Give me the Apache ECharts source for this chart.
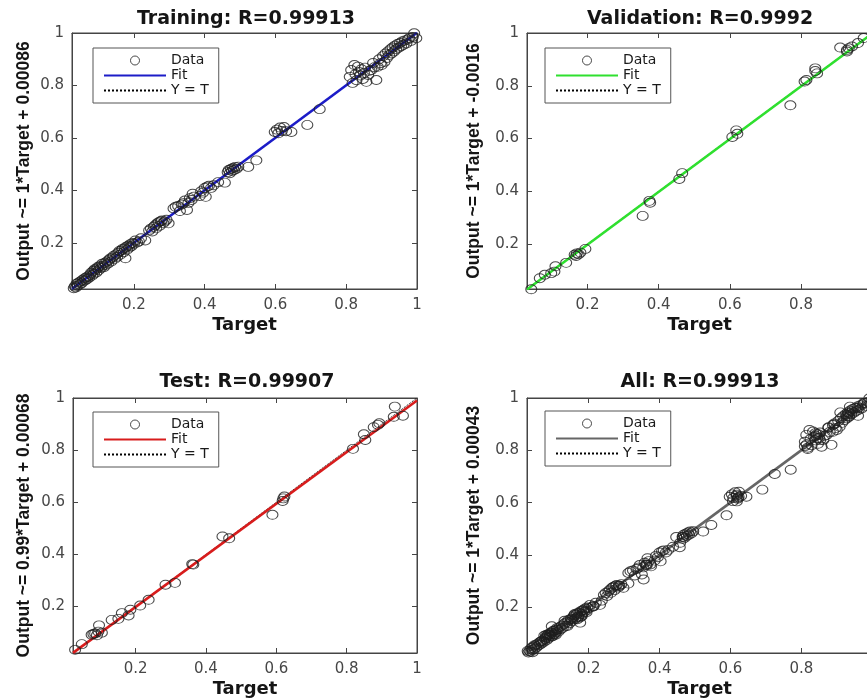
<!DOCTYPE html>
<html><head><meta charset="utf-8">
<script src="https://cdn.jsdelivr.net/npm/echarts@6/dist/echarts.min.js"></script>
<style>html,body{margin:0;padding:0;overflow:hidden;background:#fff}#c{width:880px;height:700px}</style>
</head><body><div id="c"></div>
<script>
// ---- data ----
const tickValues = [0.2, 0.4, 0.6, 0.8, 1];
const titles = ['Training: R=0.99913', 'Validation: R=0.9992', 'Test: R=0.99907', 'All: R=0.99913'];
const yNames = ['Output ~= 1*Target + 0.00086', 'Output ~= 1*Target + -0.0016', 'Output ~= 0.99*Target + 0.00068', 'Output ~= 1*Target + 0.00043'];
const fitSlope = [1, 1, 0.99, 1];
const fitIntercept = [0.00086, -0.0016, 0.00068, 0.00043];
const axisMin = [0.025, 0.03, 0.022, 0.026];
const axisMax = [1, 1, 1, 1];

const trainTarget = [0.030,0.033,0.036,0.038,0.041,0.044,0.047,0.049,0.052,0.055,0.058,0.061,0.063,0.066,0.068,0.071,0.074,0.077,0.079,0.082,0.085,0.087,0.089,0.091,0.094,0.096,0.099,0.101,0.104,0.107,0.110,0.112,0.115,0.118,0.121,0.124,0.127,0.130,0.133,0.136,0.140,
0.143,0.146,0.150,0.153,0.156,0.159,0.162,0.165,0.168,0.171,0.174,0.176,0.178,0.181,0.184,0.187,0.190,0.193,0.196,0.200,0.204,0.209,0.214,0.220,0.232,
0.243,0.248,0.252,0.256,0.260,0.263,0.266,0.270,0.273,0.276,0.279,0.283,0.287,0.292,0.298,
0.312,0.318,0.325,0.330,0.335,0.340,0.344,0.350,0.354,0.358,0.363,0.366,0.370,
0.386,0.390,0.395,0.400,0.403,0.407,0.412,0.418,0.425,0.438,0.457,
0.465,0.468,0.471,0.474,0.477,0.480,0.483,0.486,0.490,0.495,0.523,0.546,
0.598,0.604,0.608,0.613,0.618,0.624,0.630,0.645,0.690,0.725,
0.810,0.814,0.818,0.823,0.826,0.829,0.833,0.836,0.840,0.843,0.847,0.850,0.853,0.857,0.862,0.866,0.871,0.876,0.880,0.885,
0.889,0.893,0.897,0.900,0.904,0.908,0.911,0.915,0.918,0.921,0.925,0.928,0.931,0.935,0.938,0.941,0.945,0.948,0.952,0.955,0.958,0.962,0.966,0.970,0.974,0.978,0.983,0.988,0.992,0.998];
const trainOutput = [0.028,0.035,0.031,0.045,0.038,0.050,0.042,0.054,0.047,0.060,0.055,0.066,0.058,0.070,0.063,0.074,0.069,0.080,0.087,0.076,0.094,0.083,0.100,0.096,0.088,0.104,0.110,0.097,0.112,0.105,0.121,0.114,0.108,0.125,0.117,0.130,0.122,0.136,0.141,0.130,0.145,
0.152,0.140,0.157,0.148,0.163,0.170,0.156,0.172,0.178,0.165,0.180,0.142,0.186,0.175,0.190,0.183,0.196,0.188,0.200,0.197,0.210,0.202,0.206,0.218,0.210,
0.248,0.255,0.244,0.262,0.268,0.256,0.275,0.279,0.266,0.283,0.286,0.276,0.282,0.289,0.275,
0.332,0.338,0.341,0.322,0.347,0.352,0.362,0.326,0.353,0.371,0.364,0.388,0.377,
0.379,0.397,0.392,0.410,0.376,0.415,0.418,0.410,0.420,0.432,0.430,
0.470,0.478,0.466,0.482,0.474,0.486,0.478,0.490,0.483,0.491,0.490,0.515,
0.623,0.632,0.618,0.640,0.627,0.642,0.626,0.623,0.650,0.710,
0.833,0.859,0.810,0.878,0.843,0.820,0.872,0.852,0.838,0.862,0.825,0.848,0.868,0.814,0.840,0.856,0.859,0.886,0.870,0.821,
0.871,0.900,0.885,0.878,0.912,0.890,0.922,0.905,0.930,0.915,0.938,0.922,0.945,0.930,0.952,0.938,0.958,0.944,0.962,0.950,0.968,0.955,0.972,0.960,0.975,0.980,0.970,0.985,0.999,0.980];

const valTarget = [0.042,0.066,0.080,0.098,0.107,0.110,0.140,0.164,0.168,0.170,0.175,0.180,0.194,0.355,0.374,0.376,0.458,0.466,0.607,0.618,0.621,0.770,0.810,0.815,0.840,0.845,0.840,0.910,0.929,0.929,0.934,0.943,0.960,0.976];
const valOutput = [0.029,0.071,0.084,0.090,0.096,0.116,0.129,0.160,0.155,0.165,0.162,0.168,0.182,0.307,0.364,0.357,0.447,0.469,0.606,0.631,0.618,0.726,0.816,0.822,0.866,0.847,0.856,0.945,0.936,0.930,0.942,0.949,0.962,0.981];

const testTarget = [0.028,0.047,0.075,0.080,0.085,0.090,0.094,0.096,0.104,0.132,0.151,0.161,0.180,0.185,0.213,0.237,0.285,0.312,0.361,0.364,0.447,0.466,0.589,0.618,0.620,0.623,0.818,0.849,0.853,0.877,0.889,0.893,0.934,0.937,0.960];
const testOutput = [0.034,0.056,0.092,0.095,0.097,0.090,0.104,0.128,0.100,0.149,0.153,0.175,0.166,0.188,0.204,0.226,0.284,0.291,0.363,0.361,0.469,0.462,0.552,0.605,0.615,0.622,0.805,0.861,0.839,0.888,0.897,0.903,0.928,0.967,0.932];

const allTarget = trainTarget.concat(valTarget, testTarget);
const allOutput = trainOutput.concat(valOutput, testOutput);

const setTargets = [trainTarget, valTarget, testTarget, allTarget];
const setOutputs = [trainOutput, valOutput, testOutput, allOutput];

// ---- styling / layout ----
const fitColors = ['#1c1cc8', '#2fe02f', '#d81c1c', '#666666'];
const grids = [
  {left: 72, top: 33, width: 345, height: 256},
  {left: 527, top: 33, width: 346, height: 256},
  {left: 73, top: 398, width: 344, height: 255},
  {left: 527, top: 398, width: 346, height: 255}
];
const titlePos = [[246, 10], [700, 10], [247, 373], [700, 373]];
const legendPos = [[93, 48], [545, 48], [93, 412], [545, 411]];
const yNameGap = [39, 44, 40, 44];

const FONT = 'DejaVu Sans';
const axisColor = '#454545';
const labelColor = '#474747';

const option = {
  animation: false,
  backgroundColor: '#fff',
  title: [], grid: [], xAxis: [], yAxis: [], series: [], legend: []
};

for (let i = 0; i < 4; i++) {
  const mn = axisMin[i], mx = axisMax[i];
  option.grid.push(Object.assign({show: true, borderColor: axisColor, borderWidth: 1, backgroundColor: '#fff'}, grids[i]));
  option.title.push({
    text: titles[i], left: titlePos[i][0], top: titlePos[i][1], textAlign: 'center', padding: 0,
    textStyle: {fontFamily: FONT, fontWeight: 'bold', fontSize: 19, color: '#151515'}
  });
  const common = {
    type: 'value', gridIndex: i, min: mn, max: mx, splitLine: {show: false},
    axisLine: {show: true, onZero: false, lineStyle: {color: axisColor, width: 1}},
    axisTick: {show: true, inside: true, length: 5, customValues: tickValues, lineStyle: {color: axisColor}}
  };
  option.xAxis.push(Object.assign({}, common, {
    position: 'bottom',
    axisLabel: {show: true, customValues: tickValues, margin: 9, fontFamily: FONT, fontSize: 15, color: labelColor},
    name: 'Target', nameLocation: 'middle', nameGap: 27,
    nameTextStyle: {fontFamily: FONT, fontWeight: 'bold', fontSize: 18, color: '#151515'}
  }));
  option.xAxis.push(Object.assign({}, common, {position: 'top', axisLabel: {show: false}}));
  option.yAxis.push(Object.assign({}, common, {
    position: 'left',
    axisLabel: {show: true, customValues: tickValues, margin: 8, fontFamily: FONT, fontSize: 15, color: labelColor},
    name: yNames[i], nameLocation: 'middle', nameGap: yNameGap[i],
    nameTextStyle: {fontFamily: 'Liberation Sans', fontWeight: 'bold', fontSize: 17.5, color: '#151515'}
  }));
  option.yAxis.push(Object.assign({}, common, {position: 'right', axisLabel: {show: false}}));

  const xi = 2 * i, yi = 2 * i;
  const pts = setTargets[i].map((t, k) => [t, setOutputs[i][k]]);
  option.series.push({
    name: 'Y = T|' + i, type: 'line', xAxisIndex: xi, yAxisIndex: yi, symbol: 'none', z: 2,
    data: [[mn, mn], [mx, mx]],
    lineStyle: {color: '#000', width: 1, type: 'dotted'}, itemStyle: {color: '#000'}
  });
  option.series.push({
    name: 'Fit|' + i, type: 'line', xAxisIndex: xi, yAxisIndex: yi, symbol: 'none', z: 3,
    data: [[mn, fitSlope[i] * mn + fitIntercept[i]], [mx, fitSlope[i] * mx + fitIntercept[i]]],
    lineStyle: {color: fitColors[i], width: 2.6}, itemStyle: {color: fitColors[i]}
  });
  option.series.push({
    name: 'Data|' + i, type: 'scatter', xAxisIndex: xi, yAxisIndex: yi, z: 4, clip: false,
    symbol: 'circle', symbolSize: [11, 9], data: pts,
    itemStyle: {color: 'rgba(0,0,0,0)', borderColor: '#1e1e1e', borderWidth: 1}
  });
  option.legend.push({
    orient: 'vertical', left: legendPos[i][0], top: legendPos[i][1],
    data: [
      {name: 'Data|' + i, itemStyle: {borderWidth: 1}},
      {name: 'Fit|' + i, itemStyle: {opacity: 0}},
      {name: 'Y = T|' + i, itemStyle: {opacity: 0}}
    ],
    formatter: n => n.split('|')[0],
    itemWidth: 62, itemHeight: 9, itemGap: 0, selectedMode: false,
    padding: [5, 10, 5, 10], borderColor: '#555', borderWidth: 1, backgroundColor: '#fff',
    textStyle: {fontFamily: FONT, fontSize: 14, lineHeight: 15, color: '#1a1a1a'}
  });
}

const chart = echarts.init(document.getElementById('c'), null, {renderer: 'canvas'});
chart.setOption(option);
</script></body></html>
